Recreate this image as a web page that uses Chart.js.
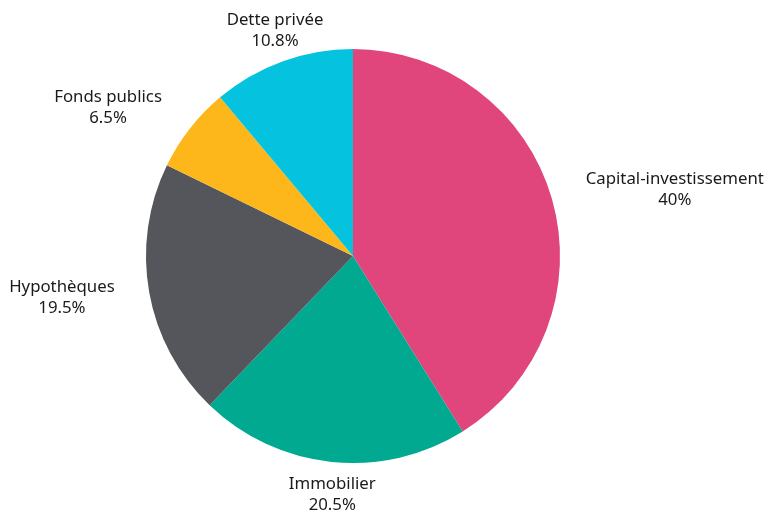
<!DOCTYPE html>
<html>
<head>
<meta charset="utf-8">
<script src="https://cdn.jsdelivr.net/npm/chart.js@4"></script>
<style>
  html, body { margin: 0; padding: 0; background: #fff; }
  #c { display: block; }
</style>
</head>
<body>
<canvas id="c" width="768" height="514"></canvas>
<script>
const labels = ['Capital-investissement', 'Immobilier', 'Hypothèques', 'Fonds publics', 'Dette privée'];
const values = [40, 20.5, 19.5, 6.5, 10.8];
const colors = ['#E0457B', '#00A98F', '#54565B', '#FDB71A', '#05C3DE'];

const FONT = '16.8px "Noto Sans", sans-serif';

const outsideLabels = {
  id: 'outsideLabels',
  afterDraw(chart) {
    const ctx = chart.ctx;
    const arcs = chart.getDatasetMeta(0).data;
    ctx.save();
    ctx.font = FONT;
    ctx.fillStyle = '#1a1a1a';
    ctx.textBaseline = 'middle';
    arcs.forEach((arc, i) => {
      const mid = (arc.startAngle + arc.endAngle) / 2;
      const r = arc.outerRadius + 33;
      const ax = arc.x + Math.cos(mid) * r;
      const ay = arc.y + Math.sin(mid) * r;
      const lines = [labels[i], values[i] + '%'];
      const w = Math.max(...lines.map(t => ctx.measureText(t).width));
      const c = Math.cos(mid);
      let cx;
      if (Math.abs(c) < 0.4) cx = ax + 4 * Math.sign(c) * -1;
      else if (c > 0) cx = ax + 2 + w / 2;
      else cx = ax - 2 - w / 2;
      ctx.textAlign = 'center';
      const lh = 21;
      lines.forEach((t, k) => {
        ctx.fillText(t, cx, ay + (k - (lines.length - 1) / 2) * lh);
      });
    });
    ctx.restore();
  }
};

new Chart(document.getElementById('c').getContext('2d'), {
  type: 'pie',
  data: {
    labels: labels,
    datasets: [{
      data: values,
      backgroundColor: colors,
      borderWidth: 0
    }]
  },
  options: {
    responsive: false,
    animation: false,
    layout: { padding: { top: 49, bottom: 51, left: 146, right: 208 } },
    plugins: {
      legend: { display: false },
      tooltip: { enabled: false }
    }
  },
  plugins: [outsideLabels]
});
</script>
</body>
</html>
